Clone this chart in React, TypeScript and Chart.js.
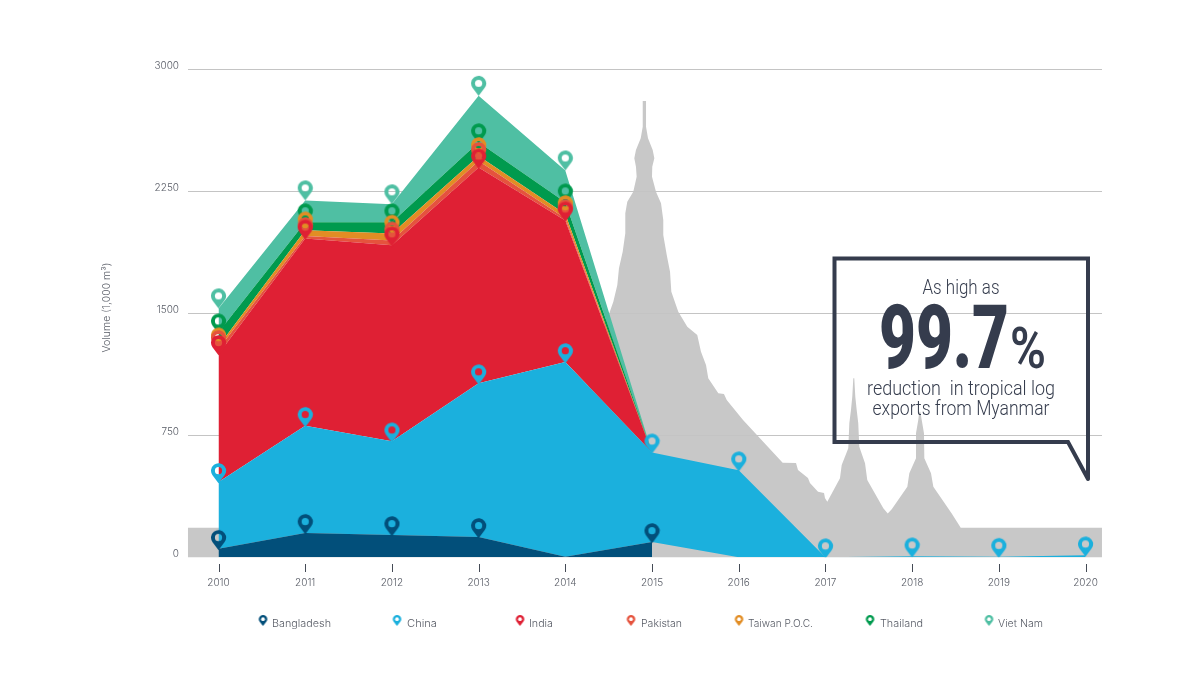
import React, { useEffect, useRef } from "react";
import { Chart, registerables } from "chart.js";

Chart.register(...registerables);

const years = [2010, 2011, 2012, 2013, 2014, 2015, 2016, 2017, 2018, 2019, 2020];
const seriesNames = ["Bangladesh", "China", "India", "Pakistan", "Taiwan P.O.C.", "Thailand", "Viet Nam"];
const seriesColors = ["#024f7a", "#1bb0dd", "#df2034", "#e5533d", "#e28d24", "#009a4e", "#4fbfa3"];

const bangladesh = [52, 150, 137, 125, 3, 94, 0, 0, 0, 0, 0];
const china = [411, 658, 576, 945, 1197, 551, 535, 0, 6, 3, 12];
const india = [787, 1152, 1205, 1327, 871, 0, null, null, null, null, null];
const pakistan = [30, 15, 30, 40, 14, 0, null, null, null, null, null];
const taiwan = [17, 35, 42, 30, 25, 0, null, null, null, null, null];
const thailand = [86, 50, 70, 85, 72, 0, null, null, null, null, null];
const vietNam = [147, 134, 110, 285, 196, 0, null, null, null, null, null];
const seriesValues = [bangladesh, china, india, pakistan, taiwan, thailand, vietNam];

// years that carry a map pin, per series
const bangladeshPins = [2010, 2011, 2012, 2013, 2015];
const chinaPins = years;
const otherPins = [2010, 2011, 2012, 2013, 2014];
const seriesPins = [bangladeshPins, chinaPins, otherPins, otherPins, otherPins, otherPins, otherPins];

const yTicks = [0, 750, 1500, 2250, 3000];
const xMin = 2015 - 464 / 86.7;
const xMax = 2015 + 450 / 86.7;

// pagoda silhouette behind the chart, in axis units (year offset from 2010, volume)
const silhouetteOffsets = [
  -0.352, 3.93, 4.4, 4.507, 4.554, 4.6, 4.619, 4.662, 4.692, 4.692, 4.715, 4.784, 4.823, 4.815, 4.796, 4.815, 4.87, 4.893, 4.893,
  4.931, 4.931, 4.954, 5.008, 5.027, 5.003, 5.0, 5.046, 5.104, 5.13, 5.13, 5.17, 5.208, 5.223, 5.303, 5.407, 5.522, 5.565, 5.623, 5.649, 5.765,
  5.83, 5.862, 6.05, 6.507, 6.661, 6.684, 6.799, 6.822, 6.915, 6.984, 6.995, 7.022,
  7.168, 7.188, 7.264, 7.276, 7.295, 7.31, 7.322, 7.333, 7.345, 7.361, 7.379, 7.391, 7.457, 7.483,
  7.668, 7.719, 7.765, 7.945, 7.968, 8.045, 8.045, 8.071, 8.083, 8.095, 8.111, 8.137, 8.141, 8.218, 8.245, 8.457, 8.561,
  10.19, 10.19, -0.352,
];
const silhouetteVolumes = [
  182, 182, 1397, 1500, 1571, 1674, 1777, 1879, 1992, 2115, 2186, 2248, 2340, 2401, 2453, 2504, 2576, 2647, 2805,
  2805, 2647, 2576, 2504, 2453, 2401, 2340, 2248, 2176, 2074, 1981, 1858, 1756, 1633, 1510, 1418, 1367, 1264, 1182, 1100, 1008,
  1004, 967, 844, 582, 580, 537, 488, 457, 403, 395, 365, 342,
  486, 567, 670, 824, 905, 987, 1100, 1100, 987, 905, 824, 680, 578, 475,
  301, 270, 295, 434, 516, 609, 762, 844, 895, 895, 844, 762, 609, 516, 434, 270, 182,
  182, 0, 0,
];

const FONT = "Inter, 'Noto Sans', sans-serif";
const TEXT = "#585c66";
const DARK = "#353c4d";

function makePin(color: string, r: number, d: number, hole: number, drop: number): HTMLCanvasElement {
  const w = Math.ceil(2 * r + 2);
  const h = Math.ceil(2 * (d + r) + 2);
  const c = document.createElement("canvas");
  c.width = w;
  c.height = h;
  const g = c.getContext("2d")!;
  const cx = w / 2;
  const tipY = h / 2 + drop;
  const cy = tipY - d;
  const a = Math.acos(r / d);
  g.fillStyle = color;
  g.beginPath();
  g.arc(cx, cy, r, Math.PI / 2 + a, Math.PI / 2 - a + 2 * Math.PI);
  g.lineTo(cx, tipY);
  g.closePath();
  g.fill();
  g.globalCompositeOperation = "destination-out";
  g.beginPath();
  g.arc(cx, cy, hole, 0, Math.PI * 2);
  g.fill();
  return c;
}

function fitText(g: CanvasRenderingContext2D, text: string, left: number, baseline: number, width: number, font: string) {
  g.save();
  g.font = font;
  g.textAlign = "left";
  g.textBaseline = "alphabetic";
  const measured = g.measureText(text).width;
  g.translate(left, baseline);
  g.scale(width / measured, 1);
  g.fillText(text, 0, 0);
  g.restore();
}

const silhouettePlugin = {
  id: "silhouette",
  beforeDraw(chart: any) {
    const { ctx, scales } = chart;
    ctx.save();
    ctx.fillStyle = "#c8c8c8";
    ctx.beginPath();
    silhouetteOffsets.forEach((off, i) => {
      const px = scales.x.getPixelForValue(2010 + off);
      const py = scales.y.getPixelForValue(silhouetteVolumes[i]);
      if (i === 0) ctx.moveTo(px, py);
      else ctx.lineTo(px, py);
    });
    ctx.closePath();
    ctx.fill();
    ctx.restore();
  },
};

const legendPinX = [263, 397, 520, 631, 739, 870, 989];
const legendTextX = [272, 407, 529, 641, 748, 880, 998];
const legendTextW = [59, 30, 24, 41, 65, 43, 45];

const overlayPlugin = {
  id: "overlay",
  afterDraw(chart: any) {
    const { ctx, scales } = chart;
    ctx.save();
    // x tick marks
    ctx.strokeStyle = "#444a55";
    ctx.lineWidth = 1;
    years.forEach((yr) => {
      const px = Math.round(scales.x.getPixelForValue(yr)) + 0.5;
      ctx.beginPath();
      ctx.moveTo(px, 564);
      ctx.lineTo(px, 572);
      ctx.stroke();
    });
    // y axis title
    ctx.save();
    ctx.translate(107, 307.5);
    ctx.rotate(-Math.PI / 2);
    ctx.fillStyle = TEXT;
    ctx.font = `300 10.5px ${FONT}`;
    ctx.textAlign = "center";
    ctx.textBaseline = "middle";
    ctx.fillText("Volume (1,000 m³)", 0, 0);
    ctx.restore();
    // legend
    seriesNames.forEach((name, i) => {
      const pin = makePin(seriesColors[i], 4.2, 6.8, 1.9, 0);
      ctx.drawImage(pin, legendPinX[i] - pin.width / 2, 626 - pin.height / 2);
      ctx.fillStyle = TEXT;
      fitText(ctx, name, legendTextX[i], 626.5, legendTextW[i], `300 10.5px ${FONT}`);
    });
    // callout
    ctx.strokeStyle = DARK;
    ctx.lineWidth = 4;
    ctx.lineJoin = "miter";
    ctx.lineCap = "round";
    ctx.beginPath();
    ctx.moveTo(1088, 479);
    ctx.lineTo(1088, 258.5);
    ctx.lineTo(834.5, 258.5);
    ctx.lineTo(834.5, 442);
    ctx.lineTo(1068, 442);
    ctx.lineTo(1088, 479);
    ctx.stroke();
    ctx.fillStyle = DARK;
    fitText(ctx, "As high as", 922.5, 294, 77, "300 21px Roboto");
    fitText(ctx, "99.7", 879, 368, 130, "900 89px Roboto");
    fitText(ctx, "%", 1010, 368, 36, "600 58px Roboto");
    fitText(ctx, "reduction  in tropical log", 867, 395, 188, "300 20px Roboto");
    fitText(ctx, "exports from Myanmar", 872.5, 415, 177, "300 20px Roboto");
    ctx.restore();
  },
};

export default function App() {
  const ref = useRef<HTMLCanvasElement>(null);
  useEffect(() => {
    const datasets = seriesNames.map((name, i) => {
      const color = seriesColors[i];
      const pin = makePin(color, 7.5, 12.5, 3.6, i === 6 ? 0 : 1.2);
      const pinned = seriesPins[i];
      const ds: any = {
        label: name,
        data: years.map((yr, k) => ({ x: yr, y: seriesValues[i][k] })),
        backgroundColor: color,
        borderColor: color,
        borderWidth: 0,
        tension: 0,
        fill: i === 0 ? "origin" : "-1",
        pointStyle: pin,
        pointRadius: (c: any) => (pinned.includes(years[c.dataIndex]) ? 8 : 0),
        pointHoverRadius: 0,
      };
      if (i === 0) {
        ds.segment = {
          backgroundColor: (c: any) => (c.p0.parsed.x >= 2015 ? "rgba(0,0,0,0)" : color),
        };
      }
      return ds;
    });
    const chart = new Chart(ref.current!, {
      type: "line",
      data: { datasets },
      plugins: [silhouettePlugin, overlayPlugin],
      options: {
        responsive: false,
        animation: false,
        events: [],
        layout: { padding: { top: 69.3, right: 98, left: 0, bottom: 0 } },
        plugins: { legend: { display: false }, tooltip: { enabled: false } },
        scales: {
          x: {
            type: "linear",
            min: xMin,
            max: xMax,
            afterFit: (s: any) => {
              s.height = 117.7;
            },
            afterBuildTicks: (s: any) => {
              s.ticks = years.map((v) => ({ value: v }));
            },
            grid: { display: false },
            border: { display: false },
            ticks: {
              autoSkip: false,
              maxRotation: 0,
              padding: 12,
              color: TEXT,
              font: { family: FONT, size: 10, weight: "300" },
              callback: (v: any) => String(v),
            },
          },
          y: {
            stacked: true,
            min: 0,
            max: 3000,
            afterFit: (s: any) => {
              s.width = 188;
            },
            afterBuildTicks: (s: any) => {
              s.ticks = yTicks.map((v) => ({ value: v }));
            },
            grid: {
              drawTicks: false,
              color: (c: any) => (c.tick && c.tick.value === 0 ? "rgba(0,0,0,0)" : "#c4c4c4"),
            },
            border: { display: false },
            ticks: {
              padding: 9,
              labelOffset: -3,
              color: TEXT,
              font: { family: FONT, size: 10, weight: "300" },
              callback: (v: any) => String(v),
            },
          },
        },
      } as any,
    });
    return () => chart.destroy();
  }, []);
  return (
    <div style={{ position: "absolute", left: 0, top: 0, width: 1200, height: 675, background: "#fff" }}>
      <canvas ref={ref} width={1200} height={675} style={{ display: "block" }} />
    </div>
  );
}
